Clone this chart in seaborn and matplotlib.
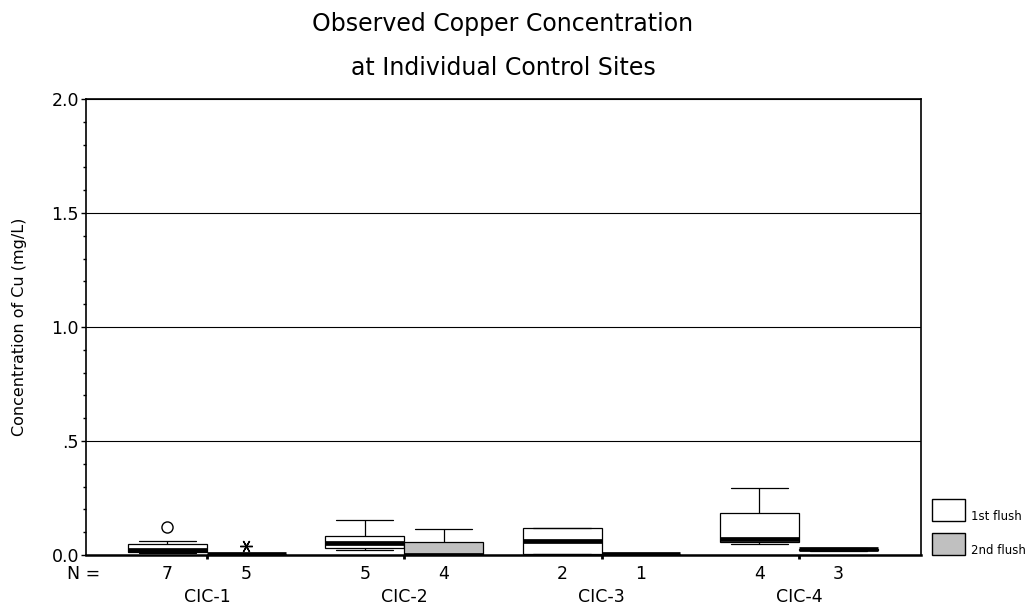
import numpy as np
import pandas as pd
import matplotlib
matplotlib.use("Agg")
import matplotlib.pyplot as plt
import matplotlib.cbook as cbook
from matplotlib.patches import Rectangle
from matplotlib.ticker import MultipleLocator
import seaborn as sns

# ---- data -----------------------------------------------------------------
sites = ["CIC-1", "CIC-2", "CIC-3", "CIC-4"]
flushes = ["1st flush", "2nd flush"]

# copper concentration (mg/L), one list per site and flush
cic1_first = [0.010, 0.012, 0.014, 0.022, 0.032, 0.063, 0.122]
cic1_second = [0.003, 0.004, 0.005, 0.006, 0.040]
cic2_first = [0.022, 0.029, 0.053, 0.085, 0.154]
cic2_second = [0.001, 0.002, 0.002, 0.113]
cic3_first = [0.004, 0.120]
cic3_second = [0.004]
cic4_first = [0.047, 0.070, 0.072, 0.294]
cic4_second = [0.016, 0.026, 0.030]

y_ticks = [0.0, 0.5, 1.0, 1.5, 2.0]
y_tick_labels = ["0.0", ".5", "1.0", "1.5", "2.0"]

title_lines = ["Observed Copper Concentration", "at Individual Control Sites"]
y_label = "Concentration of Cu (mg/L)"

samples = {
    ("CIC-1", "1st flush"): cic1_first,
    ("CIC-1", "2nd flush"): cic1_second,
    ("CIC-2", "1st flush"): cic2_first,
    ("CIC-2", "2nd flush"): cic2_second,
    ("CIC-3", "1st flush"): cic3_first,
    ("CIC-3", "2nd flush"): cic3_second,
    ("CIC-4", "1st flush"): cic4_first,
    ("CIC-4", "2nd flush"): cic4_second,
}

rows = [(s, f, v) for (s, f), vals in samples.items() for v in vals]
df = pd.DataFrame(rows, columns=["site", "flush", "cu"])


# ---- SPSS-style box statistics (Tukey hinges) -------------------------------
def tukey_hinges(values):
    x = np.sort(np.asarray(values, dtype=float))
    n = len(x)
    d = (np.floor((n + 1) / 2) + 1) / 2
    lo, hi = int(np.floor(d)), int(np.ceil(d))
    q1 = (x[lo - 1] + x[hi - 1]) / 2
    q3 = (x[n - lo] + x[n - hi]) / 2
    return q1, float(np.median(x)), q3


_mpl_boxplot_stats = cbook.boxplot_stats


def _as_groups(X):
    try:
        arr = np.asarray(X, dtype=float)
        if arr.ndim == 1:
            return [arr]
        return [row for row in arr]
    except ValueError:
        return [np.asarray(g, dtype=float).ravel() for g in X]


def spss_boxplot_stats(X, whis=1.5, **kws):
    stats = _mpl_boxplot_stats(X, whis=whis, **kws)
    for st, x in zip(stats, _as_groups(X)):
        x = np.sort(x)
        q1, med, q3 = tukey_hinges(x)
        iqr = q3 - q1
        inside = x[(x >= q1 - whis * iqr) & (x <= q3 + whis * iqr)]
        st.update(q1=q1, med=med, q3=q3, iqr=iqr,
                  whislo=inside.min(), whishi=inside.max(),
                  fliers=x[(x < q1 - whis * iqr) | (x > q3 + whis * iqr)])
    return stats


cbook.boxplot_stats = spss_boxplot_stats

# ---- figure -----------------------------------------------------------------
sns.set_style("ticks")
plt.rcParams["font.family"] = ["DejaVu Sans"]
plt.rcParams["text.color"] = "black"
plt.rcParams["axes.labelcolor"] = "black"
plt.rcParams["xtick.color"] = "black"
plt.rcParams["ytick.color"] = "black"

fig = plt.figure(figsize=(10.29, 6.12), dpi=100)
W, H = 1029, 612
PX = 72 / 100  # points per pixel
ax = fig.add_axes([86 / W, 1 - 555 / H, (921 - 86) / W, (555 - 99) / H])

sns.boxplot(
    data=df, x="site", y="cu", hue="flush",
    order=sites, hue_order=flushes,
    palette={"1st flush": "white", "2nd flush": "#c0c0c0"},
    saturation=1, width=0.8, gap=0, dodge=True,
    linecolor="black", linewidth=0.9, showfliers=False, legend=False,
    medianprops={"linewidth": 3.4, "color": "black"},
    whiskerprops={"linewidth": 0.9, "color": "black"},
    capprops={"linewidth": 0.9, "color": "black"},
    capwidths=0.29,
    ax=ax, zorder=3,
)

# outliers (circles) and extremes (asterisks), as SPSS marks them
half = 0.2
for i, site in enumerate(sites):
    for j, flush in enumerate(flushes):
        vals = np.asarray(samples[(site, flush)], dtype=float)
        q1, _, q3 = tukey_hinges(vals)
        iqr = q3 - q1
        pos = i + (2 * j - 1) * half
        extreme = (vals > q3 + 3 * iqr) | (vals < q1 - 3 * iqr)
        outlier = ((vals > q3 + 1.5 * iqr) | (vals < q1 - 1.5 * iqr)) & ~extreme
        if outlier.any():
            ax.plot(np.full(outlier.sum(), pos), vals[outlier], ls="none",
                    marker="o", ms=8, mfc="white", mec="black", mew=1.0, zorder=4)
        if extreme.any():
            ax.plot(np.full(extreme.sum(), pos), vals[extreme], ls="none",
                    marker=(6, 2, 30), ms=9, mec="black", mew=1.0, zorder=4)
        # group size under each box
        ax.annotate(str(len(vals)), xy=(pos, 0), xycoords=("data", "axes fraction"),
                    xytext=(0, -19), textcoords="offset pixels",
                    ha="center", va="center", fontsize=12.5)

ax.annotate("N =", xy=(100 - 86, 0), xycoords="axes pixels",
            xytext=(0, -19), textcoords="offset pixels",
            ha="right", va="center", fontsize=12.5)

ax.set_xlim(-0.613, 3.619)
ax.set_ylim(0, 2.0)
ax.set_yticks(y_ticks, labels=y_tick_labels)
ax.yaxis.set_minor_locator(MultipleLocator(0.1))
ax.tick_params(axis="y", which="major", length=5 * PX, width=1, labelsize=12.5,
               pad=2 * PX)
ax.tick_params(axis="y", which="minor", length=3 * PX, width=1)
ax.tick_params(axis="x", length=4 * PX, width=2, pad=29 * PX, labelsize=12.5)
ax.set_xlabel("")
ax.set_ylabel(y_label, fontsize=11.5)
ax.yaxis.set_label_coords(-(86 - 27) / (921 - 86), 0.5)

ax.yaxis.grid(True, color="black", linewidth=0.8, zorder=0)
ax.set_axisbelow(True)
for side in ["left", "right", "top", "bottom"]:
    ax.spines[side].set_visible(True)
    ax.spines[side].set_color("black")
    ax.spines[side].set_linewidth(1.2)
ax.spines["bottom"].set_linewidth(1.8)

# title
fig.text(503 / W, 1 - 30.5 / H, title_lines[0], ha="center", va="baseline", fontsize=17)
fig.text(503 / W, 1 - 75 / H, title_lines[1], ha="center", va="baseline", fontsize=17)

# legend
for k, (flush, color) in enumerate(zip(flushes, ["white", "#c0c0c0"])):
    top = 499 + k * 34
    fig.patches.append(Rectangle((932 / W, 1 - (top + 22) / H), 33 / W, 22 / H,
                                 transform=fig.transFigure, facecolor=color,
                                 edgecolor="black", linewidth=1.0))
    fig.text(971 / W, 1 - (top + 18) / H, flush, ha="left", va="center", fontsize=8.5)

fig.savefig("out.png", dpi=100)
